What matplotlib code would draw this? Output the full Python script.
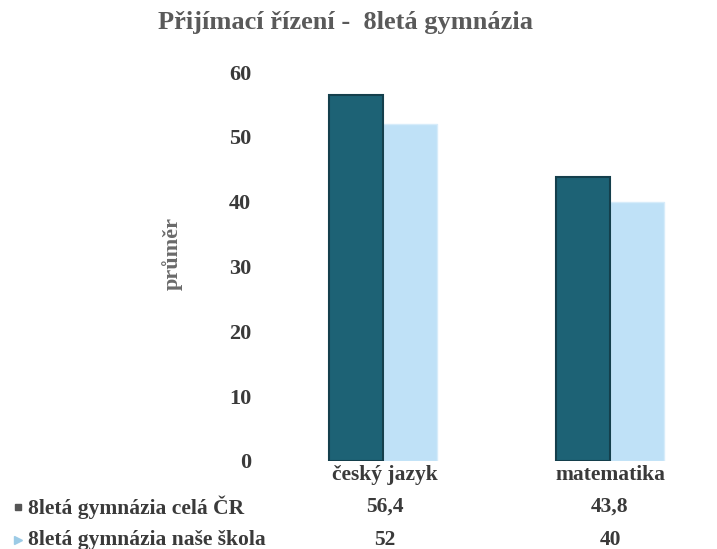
import numpy as np
import matplotlib
matplotlib.use("Agg")
import matplotlib.pyplot as plt

# data
categories = ["český jazyk", "matematika"]
series_names = ["8letá gymnázia celá ČR", "8letá gymnázia naše škola"]
cela_cr = [56.4, 43.8]
nase_skola = [52, 40]
table_labels = [["56,4", "43,8"], ["52", "40"]]
yticks = [0, 10, 20, 30, 40, 50, 60]

plt.rcParams["font.family"] = ["Liberation Serif", "DejaVu Serif"]
plt.rcParams["font.weight"] = "bold"

W, H = 717, 549
fig = plt.figure(figsize=(W / 100, H / 100), dpi=100)
fig.patch.set_facecolor("white")

# axes placed in pixel coordinates
left, right, top, bottom = 265, 717, 72, 461
ax = fig.add_axes([left / W, 1 - bottom / H, (right - left) / W, (bottom - top) / H])
ax.set_xlim(-0.52, 1.47)
ax.set_ylim(0, 60)

x = np.arange(len(categories))
bw = 0.238
dark = "#1d6275"
light = "#bfe1f7"

ax.bar(x - bw / 2, cela_cr, bw, color=dark, edgecolor="#143f4c", linewidth=1.5, zorder=3)
ax.bar(x + bw / 2, nase_skola, bw, color=light, edgecolor="#d7ecfa", linewidth=1, zorder=2)

for s in ax.spines.values():
    s.set_visible(False)
ax.set_xticks([])
ax.set_yticks(yticks)
ax.tick_params(axis="y", length=0, pad=10, labelsize=16, labelcolor="#3a3a3a")
for lbl in ax.get_yticklabels():
    lbl.set_fontweight("bold")

fig.text(172 / W, 1 - 253 / H, "průměr", rotation=90, ha="center", va="center",
         fontsize=16, color="#6a6a6a", fontweight="bold")

fig.text(345 / W, 1 - 22 / H, "Přijímací řízení -  8letá gymnázia", ha="center",
         va="center", fontsize=19, color="#5a5a5a", fontweight="bold")

# data table under the chart
txt = "#3a3a3a"
cat_px = [385, 610]
for cx, c in zip(cat_px, categories):
    fig.text(cx / W, 1 - 475 / H, c, ha="center", va="center", fontsize=15.5, color=txt)

row_y = [507, 540]
markers = [dict(marker="s", color="#555555", ms=5), dict(marker=">", color="#9ccbe6", ms=6)]
for r, (name, vals) in enumerate(zip(series_names, table_labels)):
    yy = 1 - row_y[r] / H
    fig.lines.append(plt.Line2D([18 / W], [yy], transform=fig.transFigure, linestyle="none", **markers[r]))
    fig.text(28 / W, yy, name, ha="left", va="center", fontsize=15.5, color=txt)
    for cx, v in zip(cat_px, vals):
        fig.text(cx / W, yy, v, ha="center", va="center", fontsize=15.5, color=txt)

fig.savefig("out.png", dpi=100)
